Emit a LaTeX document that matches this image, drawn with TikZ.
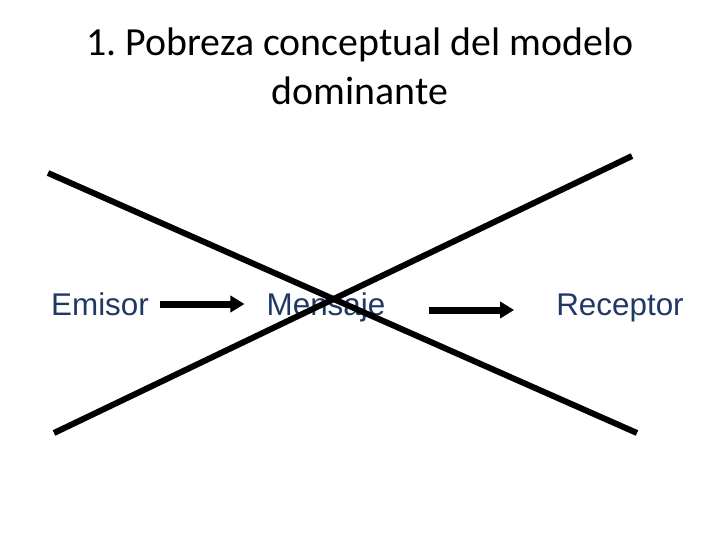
\documentclass[tikz,border=0pt]{standalone}
\usepackage{fontspec}
\setmainfont{Carlito}
\newfontfamily\arialfont{Liberation Sans}
\usepackage{xcolor}
\usetikzlibrary{arrows.meta,positioning}
\definecolor{azul}{RGB}{31,56,100}
\frenchspacing

\begin{document}
\begin{tikzpicture}[x=1bp, y=-1bp,
  titulo/.style={align=center, font=\fontsize{40}{50}\selectfont, text=black, inner sep=0pt},
  etiqueta/.style={font=\arialfont\fontsize{31.5}{36}\selectfont, text=azul, inner sep=0pt, anchor=base},
  flecha/.style={-{Triangle[length=14bp, width=16bp]}, line width=7bp},
  cruz/.style={line width=6bp}
]
\useasboundingbox (0,0) rectangle (720,540);
\node[titulo, anchor=base] (tit) at (360,105) {1. Pobreza conceptual del modelo\\dominante};
\node[etiqueta] (emisor) at (100,315) {Emisor};
\node[etiqueta] (mensaje) at (326,315) {Mensaje};
\node[etiqueta] (receptor) at (620,315) {Receptor};
\draw[flecha] ([xshift=11bp, yshift=11bp]emisor.base east) -- ([xshift=-22bp, yshift=11bp]mensaje.base west);
\draw[flecha] ([xshift=43bp, yshift=5bp]mensaje.base east) -- ([xshift=-42bp, yshift=5bp]receptor.base west);
% las dos rayas cruzadas
\coordinate (a1) at (48,173);
\coordinate (a2) at (637,433);
\coordinate (b1) at (54,433);
\coordinate (b2) at (632,156);
\draw[cruz] (a1) -- (a2);
\draw[cruz] (b1) -- (b2);
\end{tikzpicture}
\end{document}
